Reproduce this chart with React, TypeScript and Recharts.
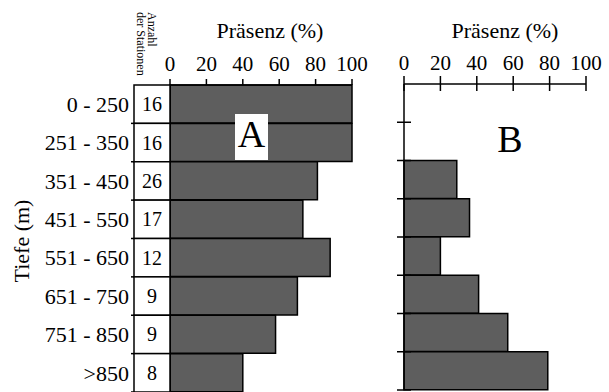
import React from "react";
import { BarChart, Bar, XAxis, YAxis } from "recharts";

// depth classes (Tiefe in m), number of stations, presence (%) for A and B
const depthLabels = [
  "0 - 250",
  "251 - 350",
  "351 - 450",
  "451 - 550",
  "551 - 650",
  "651 - 750",
  "751 - 850",
  ">850",
];
const stationCounts = [16, 16, 26, 17, 12, 9, 9, 8];
const presenceA = [100, 100, 81, 73, 88, 70, 58, 40];
const presenceB = [0, 0, 29, 36, 20, 41, 57, 79];
const xTicks = [0, 20, 40, 60, 80, 100];

const dataA = depthLabels.map((depth, i) => ({ depth, value: presenceA[i] }));
const dataB = depthLabels.map((depth, i) => ({ depth, value: presenceB[i] }));

const FONT = "Liberation Serif, serif";
const serif = { fontFamily: FONT };
const BAR_FILL = "#5e5e5e";
const ROW_A = (392 - 85) / 8;
const ROW_B = (390 - 84) / 8;

const DepthTick = (props: any) => {
  const { x, y, payload } = props;
  const count = stationCounts[depthLabels.indexOf(payload.value)];
  return (
    <g>
      <text x={x - 41} y={y} dy="0.35em" textAnchor="end" fontSize={22} style={serif} fill="#000">
        {payload.value}
      </text>
      <rect x={x - 36} y={y - ROW_A / 2} width={36} height={ROW_A} fill="#fff" stroke="#000" strokeWidth={1.5} />
      <line x1={x - 39} x2={x - 36} y1={y + ROW_A / 2} y2={y + ROW_A / 2} stroke="#000" strokeWidth={1.5} />
      <text x={x - 18} y={y} dy="0.35em" textAnchor="middle" fontSize={20} style={serif} fill="#000">
        {count}
      </text>
    </g>
  );
};

const PlainTickX = (props: any) => {
  const { x, y, payload } = props;
  return (
    <text x={x} y={y} textAnchor="middle" fontSize={21} style={serif} fill="#000">
      {payload.value}
    </text>
  );
};

const CrossTickX = (props: any) => {
  const { x, y, payload } = props;
  return (
    <g>
      <line x1={x} x2={x} y1={y - 8} y2={y + 7} stroke="#000" strokeWidth={1.5} />
      <text x={x} y={y - 14} textAnchor="middle" fontSize={21} style={serif} fill="#000">
        {payload.value}
      </text>
    </g>
  );
};

const CrossTickY = (props: any) => {
  const { x, y } = props;
  return <line x1={x - 7} x2={x + 7} y1={y + ROW_B / 2} y2={y + ROW_B / 2} stroke="#000" strokeWidth={1.5} />;
};

export default function App() {
  return (
    <div style={{ position: "absolute", left: 0, top: 0, width: 609, height: 392, background: "#fff", fontFamily: FONT }}>
      <div style={{ position: "absolute", left: 0, top: 0 }}>
        <BarChart
          width={380}
          height={392}
          data={dataA}
          layout="vertical"
          barCategoryGap={0}
          margin={{ top: 0, right: 28, bottom: 0, left: 0 }}
        >
          <XAxis
            type="number"
            orientation="top"
            domain={[0, 100]}
            ticks={xTicks}
            interval={0}
            height={85}
            tickSize={6}
            tickMargin={8}
            axisLine={{ stroke: "#000", strokeWidth: 1.5 }}
            tickLine={{ stroke: "#000", strokeWidth: 1.5 }}
            tick={<PlainTickX />}
          />
          <YAxis
            type="category"
            dataKey="depth"
            width={170}
            tickLine={false}
            tickSize={0}
            tickMargin={0}
            interval={0}
            axisLine={{ stroke: "#000", strokeWidth: 1.5 }}
            tick={<DepthTick />}
          />
          <Bar dataKey="value" fill={BAR_FILL} stroke="#000" strokeWidth={1.5} isAnimationActive={false} />
        </BarChart>
      </div>
      <div style={{ position: "absolute", left: 380, top: 0 }}>
        <BarChart
          width={229}
          height={392}
          data={dataB}
          layout="vertical"
          barCategoryGap={0}
          margin={{ top: 0, right: 23, bottom: 2, left: 0 }}
        >
          <XAxis
            type="number"
            orientation="top"
            domain={[0, 100]}
            ticks={xTicks}
            interval={0}
            height={84}
            tickSize={0}
            tickMargin={0}
            tickLine={false}
            axisLine={{ stroke: "#000", strokeWidth: 1.5 }}
            tick={<CrossTickX />}
          />
          <YAxis
            type="category"
            dataKey="depth"
            width={24}
            tickSize={0}
            tickMargin={0}
            tickLine={false}
            interval={0}
            axisLine={{ stroke: "#000", strokeWidth: 1.5 }}
            tick={<CrossTickY />}
          />
          <Bar dataKey="value" fill={BAR_FILL} stroke="#000" strokeWidth={1.5} isAnimationActive={false} />
        </BarChart>
      </div>
      <svg width={609} height={392} style={{ position: "absolute", left: 0, top: 0, pointerEvents: "none" }}>
        <g style={serif} fill="#000">
          <text x={270} y={38} textAnchor="middle" fontSize={22}>Präsenz (%)</text>
          <text x={505} y={38} textAnchor="middle" fontSize={22}>Präsenz (%)</text>
          <text x={29} y={241} textAnchor="middle" fontSize={22} transform="rotate(-90, 29, 241)">Tiefe (m)</text>
          <text x={148} y={12} fontSize={12} transform="rotate(90, 148, 12)">Anzahl</text>
          <text x={137} y={12} fontSize={12} transform="rotate(90, 137, 12)">der Stationen</text>
          <rect x={235} y={114} width={33} height={46} fill="#fff" />
          <text x={251.5} y={147} textAnchor="middle" fontSize={38}>A</text>
          <text x={510} y={152} textAnchor="middle" fontSize={38}>B</text>
        </g>
      </svg>
    </div>
  );
}
